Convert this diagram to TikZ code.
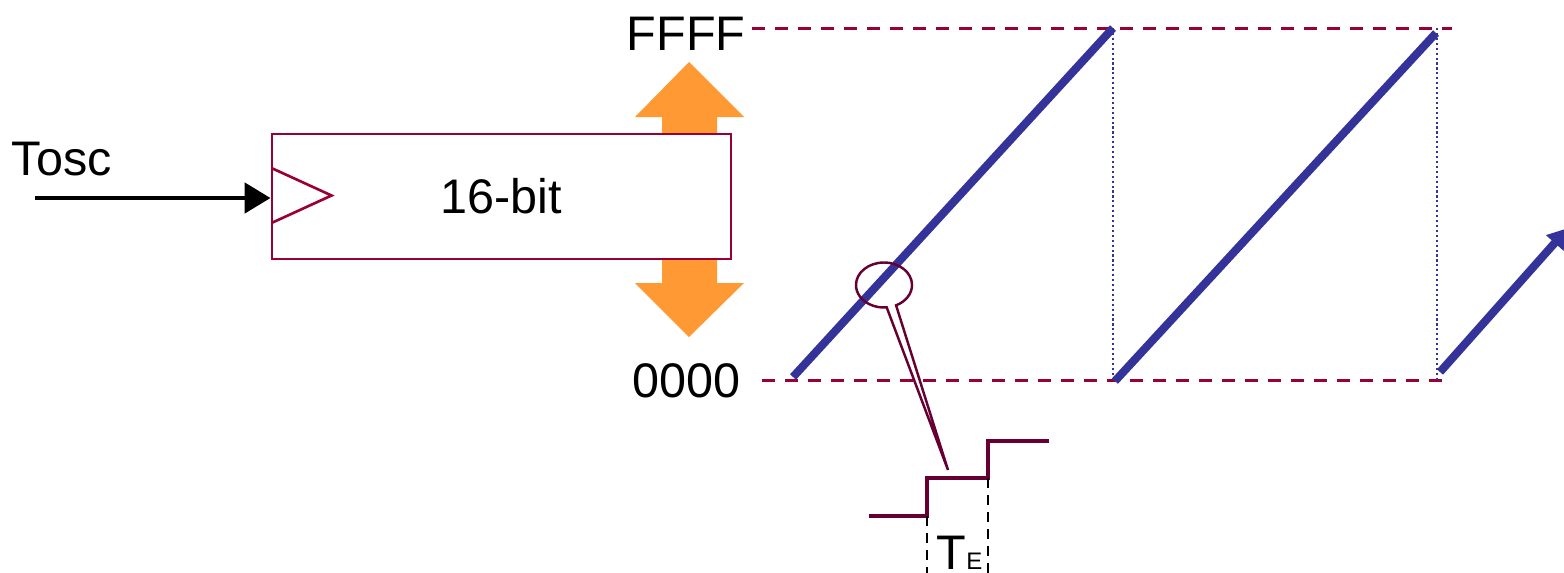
\documentclass[tikz,border=0pt]{standalone}
\usepackage{fontspec}
\setmainfont{Liberation Sans}
\usetikzlibrary{arrows.meta,shapes.callouts}

\definecolor{boxred}{HTML}{990033}
\definecolor{stairred}{HTML}{660033}
\definecolor{sawblue}{HTML}{333399}
\definecolor{arroworange}{HTML}{FF9933}

\tikzset{
	lbl/.style={inner sep=0pt, font=\fontsize{13.8}{16}\selectfont},
	level/.style={draw=boxred, line width=0.85pt, dash pattern=on 0.13cm off 0.1cm},
	ramp/.style={draw=sawblue, line width=2.3pt},
	wrap/.style={draw=sawblue, line width=0.7pt, dash pattern=on 0.6pt off 0.8pt},
	stairs/.style={draw=stairred, line width=0.9pt},
	tick/.style={draw=black, line width=0.8pt, dash pattern=on 0.1cm off 0.07cm},
}

\begin{document}
\begin{tikzpicture}[x=0.01cm, y=-0.01cm]
		\useasboundingbox (0,0) rectangle (1564,572);

		% up/down arrow behind the counter
		\fill[arroworange] (689,62) -- (744,117) -- (717,117) -- (717,283) -- (744,283) -- (689,337)
			-- (635,283) -- (662,283) -- (662,117) -- (635,117) -- cycle;

		\node (counter) [lbl, draw=boxred, line width=0.75pt, fill=white, minimum width=4.59cm, minimum height=1.25cm] at (501.5,196.5) {16-bit};
		\draw[boxred, line width=0.75pt] ([shift={(2,-28)}]counter.west) -- ([shift={(61,-1)}]counter.west) -- ([shift={(2,26)}]counter.west);

		\coordinate (clk) at (35,198);
		\node (tosc) [lbl, anchor=base west] at (11,175) {Tosc};
		\draw[line width=1.4pt, -{Triangle[length=0.26cm, width=0.30cm]}] (clk) -- (clk -| counter.west);

		% count limits
		\node (ffff) [lbl, anchor=base east] at (746,50) {FFFF};
		\node (zero) [lbl, anchor=base east] at (741,397) {0000};
		\coordinate (hi) at (752,28);
		\coordinate (hi end) at (1452,28);
		\coordinate (lo) at (762,380);
		\coordinate (lo end) at (1444,380);
		\draw[level] (hi) -- (hi end);
		\draw[level] (lo) -- (lo end);

		% sawtooth
		\coordinate (r1a) at (793,377);
		\coordinate (r1b) at (1113,28);
		\coordinate (r2a) at (1115,381);
		\coordinate (r2b) at (1436,33);
		\coordinate (r3a) at (1440,372);
		\coordinate (r3b) at (1568,228);
		\draw[wrap] (r1b |- hi) -- (r1b |- lo);
		\draw[wrap] ([xshift=0.01cm]r2b |- hi) -- ([xshift=0.01cm]r2b |- lo);
		\draw[ramp] (r1a) -- (r1b);
		\draw[ramp] (r2a) -- (r2b);
		\draw[ramp, -{Triangle[length=0.2cm, width=0.22cm]}] (r3a) -- (r3b);

		% zoomed steps
		\coordinate (st0) at (869,516);
		\coordinate (st1) at (927,478);
		\coordinate (st2) at (988,441);
		\coordinate (st3) at (1049,441);
		\coordinate (floor) at (0,576);
		\coordinate (tip) at (948,470);
		\node (lens) [ellipse callout, draw=stairred, line width=0.7pt, minimum width=0.56cm, minimum height=0.45cm, inner sep=0pt, callout absolute pointer={(tip)}, callout pointer arc=20] at (884,285) {};
		\draw[stairs] (st0) -| (st1) -| (st2) -- (st3);
		\draw[tick] (st0 -| st1) -- (st1 |- floor);
		\draw[tick] (st1 -| st2) -- (st2 |- floor);
		\node (te) [lbl, anchor=base west] at (936,569) {T{\fontsize{6.8}{7}\selectfont E}};
	\end{tikzpicture}
\end{document}
